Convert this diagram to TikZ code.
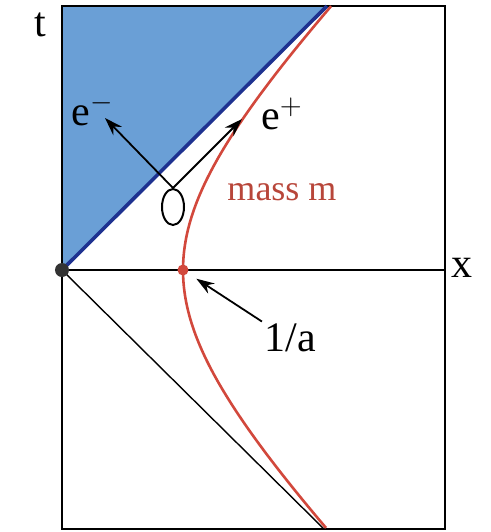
\documentclass[tikz,border=0pt]{standalone}
\usepackage{fontspec}
\setmainfont{Liberation Serif}
\usetikzlibrary{arrows.meta,positioning,shapes.geometric}
\definecolor{skyfill}{HTML}{6A9FD6}
\definecolor{navyline}{HTML}{1E3290}
\definecolor{massred}{HTML}{D2483C}
\definecolor{labred}{HTML}{B8463A}
\tikzset{lab/.style={font=\fontsize{21}{24}\selectfont,inner sep=1pt},arr/.style={-{Stealth[length=9pt,width=6pt]},line width=0.9pt},dot/.style={circle,inner sep=0pt,minimum size=#1}}
\begin{document}
\begin{tikzpicture}[x=0.5pt,y=0.5pt]
\useasboundingbox (-62,-262) rectangle (429,270);
\fill[skyfill] (0,0) -- (265,264) -- (0,264) -- cycle;
\draw[line width=0.7pt] (0,-259) rectangle (383,264);\draw[line width=0.7pt] (0,0) -- (383,0);
\draw[line width=0.7pt] (0,0) -- (262,-259);
\draw[navyline,line width=1.8pt] (0,0) -- (265,264);
\draw[massred,line width=1.3pt,domain=-1.25:1.27,samples=80,smooth] plot ({-40+161*cosh(\x)},{161*sinh(\x)});
\node[dot=7pt,fill=black!80] (orig) at (0,0) {};\node[dot=5.5pt,fill=massred] (vtx) at (121,0) {};
\node[draw,ellipse,line width=1pt,minimum width=11pt,minimum height=18pt,inner sep=0pt] (loop) at (111,63) {};
\coordinate (emtip) at (43,152);\coordinate (eptip) at (180,151);
\draw[arr] (loop.north) -- (emtip);\draw[arr] (loop.north) -- (eptip);
\node[lab] (em) at (31,160) {e$^-$};\node[lab] (ep) at (220,156) {e$^+$};
\node[lab,font=\fontsize{18}{21}\selectfont,text=labred] (mass) at (220,78) {mass m};
\node[lab] (inva) at (228,-68) {1/a};\draw[arr] (inva.north west) -- (vtx) [shorten >=5pt];
\node[lab] (tlab) at (-22,245) {t};\node[lab] (xlab) at (400,2) {x};
\end{tikzpicture}
\end{document}
